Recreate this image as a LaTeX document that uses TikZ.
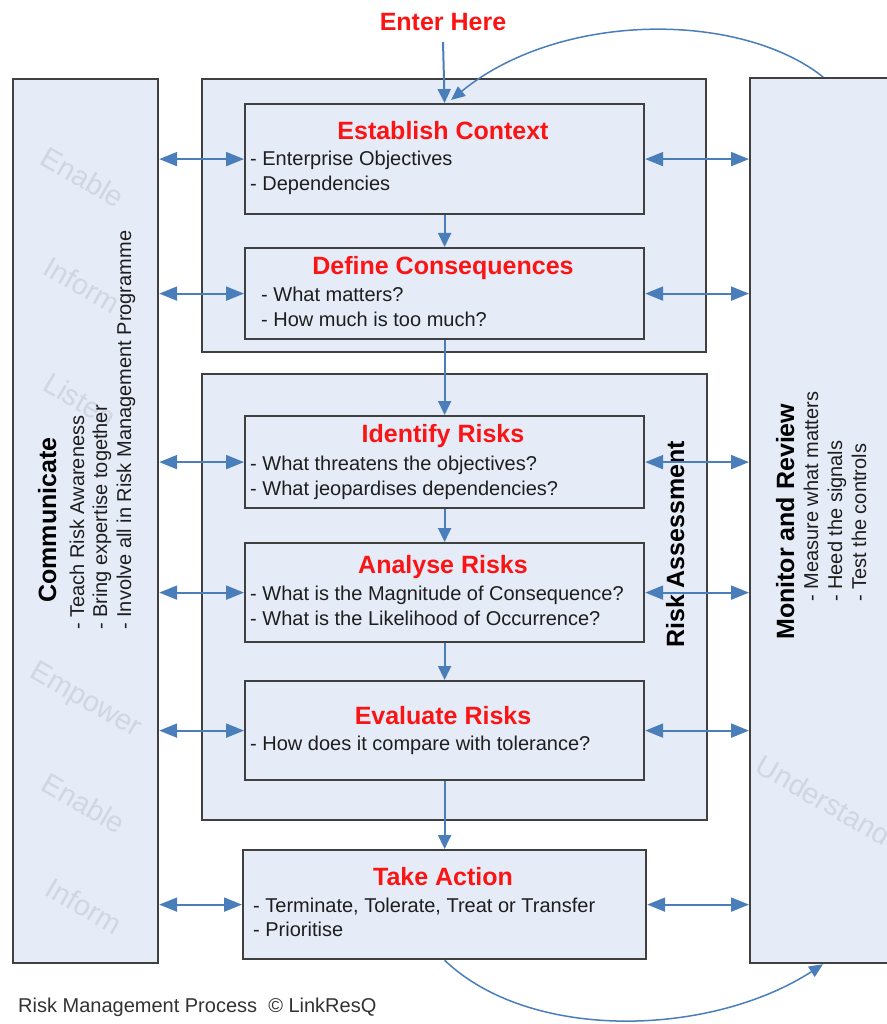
\documentclass[tikz,border=0pt]{standalone}
\usepackage{fontspec}
\setmainfont{Liberation Sans}
\usetikzlibrary{arrows.meta}
\definecolor{boxfill}{RGB}{229,235,247}
\definecolor{boxline}{RGB}{64,64,64}
\definecolor{arrowblue}{RGB}{74,126,187}
\definecolor{wmark}{RGB}{210,214,224}
\definecolor{titlered}{RGB}{250,20,20}
\definecolor{bodytext}{RGB}{30,30,30}
\definecolor{foottext}{RGB}{50,50,50}
\begin{document}
\begin{tikzpicture}[x=1pt,y=-1pt,
  panel/.style={draw=boxline, line width=2.2pt, fill=boxfill, inner sep=0pt, anchor=north west},
  wm/.style={text=wmark, font=\fontsize{29}{34}\selectfont, inner sep=0pt},
  ttl/.style={text=titlered, font=\fontsize{25}{30}\selectfont\bfseries, inner sep=0pt, anchor=base},
  body/.style={text=bodytext, font=\fontsize{20}{24}\selectfont, inner sep=0pt, anchor=base west},
  sidettl/.style={text=black, font=\fontsize{25}{30}\selectfont\bfseries, inner sep=0pt, rotate=90},
  sidebody/.style={text=bodytext, font=\fontsize{20}{24}\selectfont, inner sep=0pt, rotate=90, anchor=base west},
  harrow/.style={draw=arrowblue, line width=2pt, {Triangle[length=18pt,width=14pt]}-{Triangle[length=18pt,width=14pt]}},
  varrow/.style={draw=arrowblue, line width=2pt, -{Triangle[length=14pt,width=13pt]}},
  carrow/.style={draw=arrowblue, line width=1.5pt, -{Triangle[length=14pt,width=12pt]}}
]
\useasboundingbox (0,0) rectangle (886,1024);

% panels
\node[panel, minimum width=145pt, minimum height=884pt] (comm) at (12,78) {};
\node[panel, minimum width=146pt, minimum height=885pt] (mon) at (749,77) {};
\node[panel, minimum width=504pt, minimum height=273pt] (grp1) at (201,78) {};
\node[panel, minimum width=505pt, minimum height=446pt] (grp2) at (201,373) {};
\node[panel, minimum width=399pt, minimum height=110pt] (est) at (244,103) {};
\node[panel, minimum width=399pt, minimum height=91pt] (def) at (244,247) {};
\node[panel, minimum width=399pt, minimum height=92pt] (ide) at (244,415) {};
\node[panel, minimum width=399pt, minimum height=99pt] (ana) at (244,542) {};
\node[panel, minimum width=399pt, minimum height=99pt] (eva) at (244,680) {};
\node[panel, minimum width=403pt, minimum height=109pt] (tak) at (242,849) {};

% watermarks
\node[wm, rotate=-30] (w1) at (83,177) {Enable};
\node[wm, rotate=-30] (w2) at (82,285) {Inform};
\node[wm, rotate=-30] (w3) at (80,400) {Listen};
\node[wm, rotate=-30] (w4) at (85,701) {Empower};
\node[wm, rotate=-30] (w5) at (84,803) {Enable};
\node[wm, rotate=-30] (w6) at (84,906) {Inform};
\node[wm, rotate=-30] (w7) at (824,800) {Understand};

% entry label
\node[ttl] (enter) at (443,31) {Enter Here};
\coordinate (enterfoot) at (443,42);

% box texts
\node[ttl] (t1) at (443,140) {Establish Context};
\node[body] (t1a) at (250,166) {- Enterprise Objectives};
\node[body] (t1b) at (250,191) {- Dependencies};

\node[ttl] (t2) at (443,274) {Define Consequences};
\node[body] (t2a) at (261,301) {- What matters?};
\node[body] (t2b) at (261,326) {- How much is too much?};

\node[ttl] (t3) at (443,442) {Identify Risks};
\node[body] (t3a) at (250,470) {- What threatens the objectives?};
\node[body] (t3b) at (250,495) {- What jeopardises dependencies?};

\node[ttl] (t4) at (443,573) {Analyse Risks};
\node[body] (t4a) at (250,600) {- What is the Magnitude of Consequence?};
\node[body] (t4b) at (250,625) {- What is the Likelihood of Occurrence?};

\node[ttl] (t5) at (443,724) {Evaluate Risks};
\node[body] (t5a) at (250,750) {- How does it compare with tolerance?};

\node[ttl] (t6) at (443,885) {Take Action};
\node[body] (t6a) at (253,912) {- Terminate, Tolerate, Treat or Transfer};
\node[body] (t6b) at (253,936) {- Prioritise};

% side texts
\node[sidettl, anchor=base] (ct) at (56,520) {Communicate};
\node[sidebody] (c1) at (84,630) {- Teach Risk Awareness};
\node[sidebody] (c2) at (107,630) {- Bring expertise together};
\node[sidebody] (c3) at (131,630) {- Involve all in Risk Management Programme};

\node[sidettl, anchor=base west] (mt) at (794,640) {Monitor and Review};
\node[sidebody] (m1) at (818,602) {- Measure what matters};
\node[sidebody] (m2) at (842,602) {- Heed the signals};
\node[sidebody] (m3) at (866,602) {- Test the controls};

\node[sidettl, anchor=base west] (ra) at (684,648) {Risk Assessment};

% footer
\node[text=foottext, font=\fontsize{20}{24}\selectfont, inner sep=0pt, anchor=base west] (foot) at (18,1012) {Risk Management Process \ © LinkResQ};

% vertical flow arrows
\draw[varrow] (enterfoot) -- (est.north);
\draw[varrow] (est.south) -- (def.north);
\draw[varrow] (def.south) -- (ide.north);
\draw[varrow] (ide.south) -- (ana.north);
\draw[varrow] (ana.south) -- (eva.north);
\draw[varrow] (eva.south) -- (tak.north);

% horizontal two-way arrows
\foreach \b in {est,def,ide,ana,eva,tak}{
  \draw[harrow] (\b.west -| comm.east) -- (\b.west);
  \draw[harrow] (\b.east) -- (\b.east -| mon.west);
}

% loop curves
\coordinate (topend) at (451,100);
\draw[carrow] (mon.north) .. controls (740,11) and (560,11) .. (topend);
\draw[carrow] (tak.south) .. controls (530,1042) and (710,1037) .. (mon.south);
\end{tikzpicture}
\end{document}
